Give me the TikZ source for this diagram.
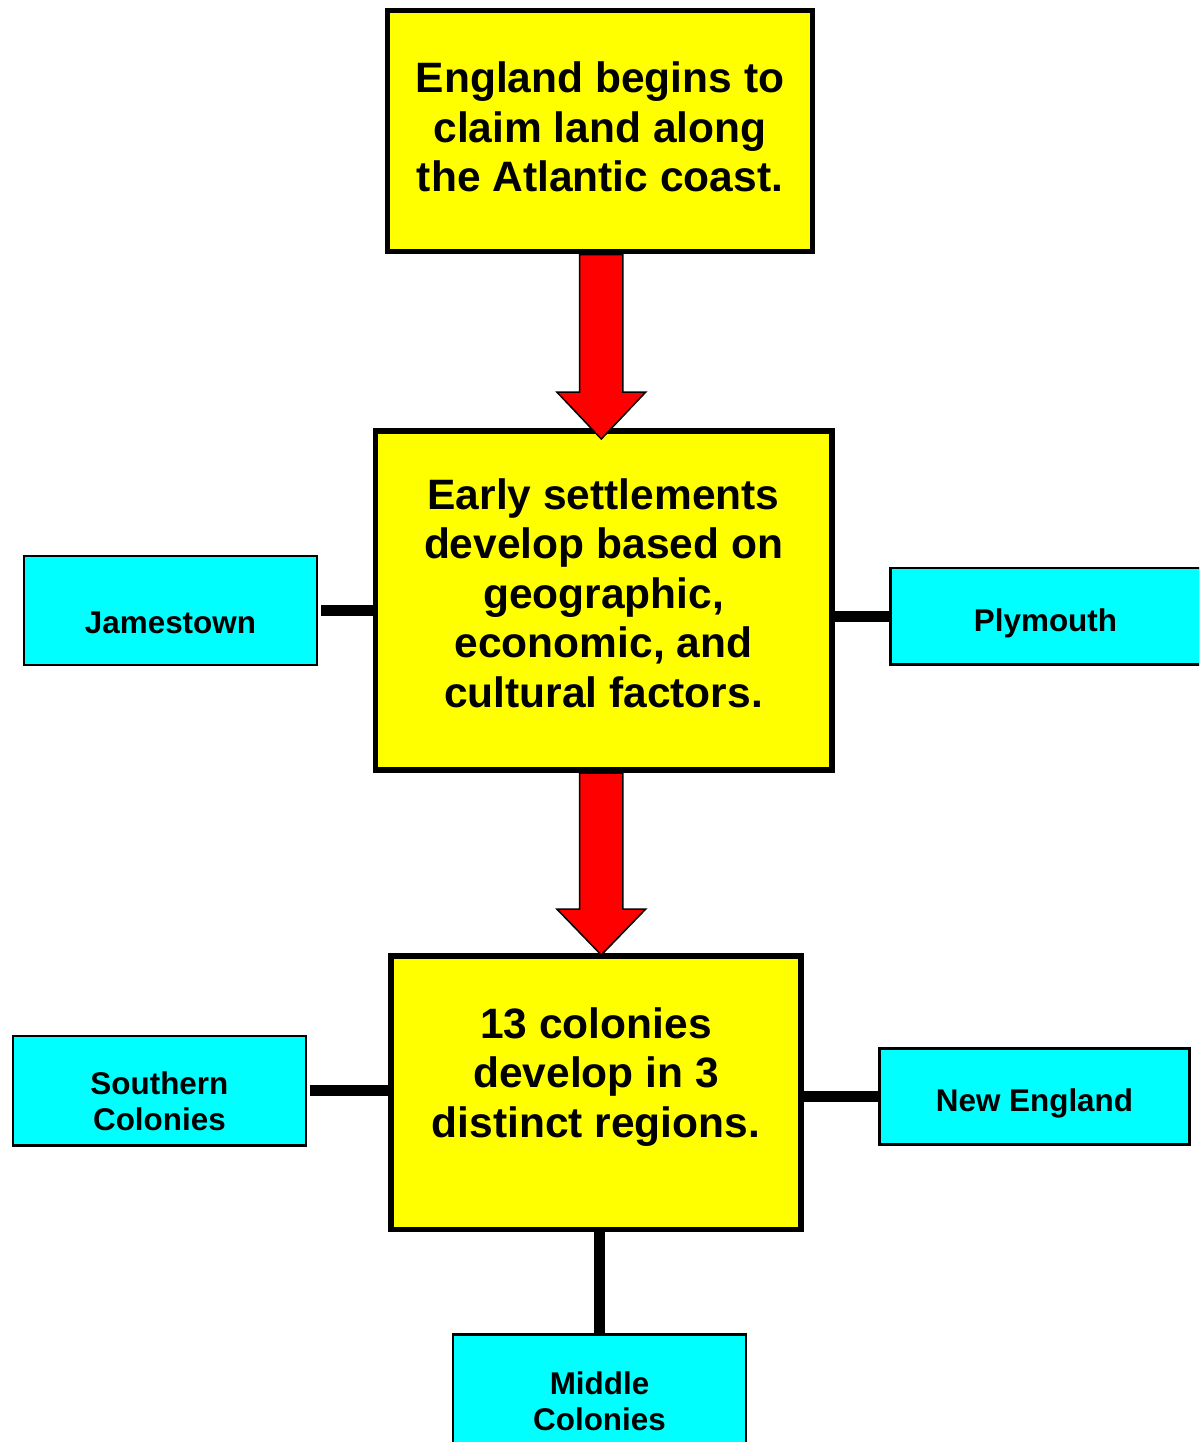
\documentclass[tikz,border=0pt]{standalone}
\usepackage{fontspec}
\setmainfont{Liberation Sans}
\usetikzlibrary{calc}
\definecolor{byellow}{RGB}{255,255,0}
\definecolor{bcyan}{RGB}{0,255,255}
\definecolor{bred}{RGB}{255,0,0}
\tikzset{
  ybox/.style={draw=black, fill=byellow, line width=5.5pt, inner sep=0pt, outer sep=0pt},
  cbox/.style={draw=black, fill=bcyan, line width=2.5pt, inner sep=0pt, outer sep=0pt},
  ytext/.style={align=center, inner sep=0pt, font=\fontsize{42.5}{49.5}\selectfont\bfseries},
  ctext/.style={align=center, inner sep=0pt, font=\fontsize{31.4}{36}\selectfont\bfseries},
  conn/.style={draw=black, line width=11pt},
  bigarrow/.style={draw=black, fill=bred, line width=1.5pt, line join=miter}
}
\begin{document}
\begin{tikzpicture}[x=1pt,y=-1pt]
\useasboundingbox (0,0) rectangle (1199,1442);
\clip (0,0) rectangle (1199,1442);
% yellow boxes
\node[ybox, minimum width=425pt, minimum height=241pt] (b1) at (600,131) {};
\node[ybox, minimum width=456.5pt, minimum height=339pt] (b2) at (603.75,600.5) {};
\node[ybox, minimum width=410pt, minimum height=273.5pt] (b3) at (596,1092.75) {};
% cyan boxes
\node[cbox, minimum width=293pt, minimum height=109pt] (jam) at (170.5,610.5) {};
\node[cbox, minimum width=310pt, minimum height=96.5pt] (ply) at (1045.5,616.25) {};
\node[cbox, minimum width=293pt, minimum height=109.5pt] (sou) at (159.4,1090.75) {};
\node[cbox, minimum width=310pt, minimum height=96pt] (nen) at (1034.5,1096.5) {};
\node[cbox, minimum width=293pt, minimum height=112pt] (mid) at (599.5,1390.5) {};
% texts (base anchor = baseline of the last line)
\node[ytext, anchor=base] (t1) at (600,192) {England begins to\\claim land along\\the Atlantic coast.};
\node[ytext, anchor=base] (t2) at (603.5,707) {Early settlements\\develop based on\\geographic,\\economic, and\\cultural factors.};
\node[ytext, anchor=base] (t3) at (596,1137) {13 colonies\\develop in 3\\distinct regions.};
\node[ctext, anchor=base] (l1) at (170.5,633.3) {Jamestown};
\node[ctext, anchor=base] (l2) at (1045.5,631) {Plymouth};
\node[ctext, anchor=base] (l3) at (159.4,1130) {Southern\\Colonies};
\node[ctext, anchor=base] (l4) at (1034.5,1111) {New England};
\node[ctext, anchor=base] (l5) at (599.5,1430) {Middle\\Colonies};
% connectors
\draw[conn] ([xshift=4pt]jam.east) -- (jam.east -| b2.west);
\draw[conn] (b2.east |- ply.west) -- (ply.west);
\draw[conn] ([xshift=4pt]sou.east) -- (sou.east -| b3.west);
\draw[conn] (b3.east |- nen.west) -- (nen.west);
\draw[conn] (b3.south -| mid.north) -- (mid.north);
% red block arrows
\coordinate (tip1) at (601.3,439);
\coordinate (tip2) at (601.3,955);
\draw[bigarrow] (tip1) -- ++(-44.5,-47) -- ++(22.9,0) -- ++(0,-137.5) -- ++(43.2,0) -- ++(0,137.5) -- ++(22.9,0) -- cycle;
\draw[bigarrow] (tip2) -- ++(-44.5,-46) -- ++(22.9,0) -- ++(0,-136) -- ++(43.2,0) -- ++(0,136) -- ++(22.9,0) -- cycle;
\end{tikzpicture}
\end{document}
